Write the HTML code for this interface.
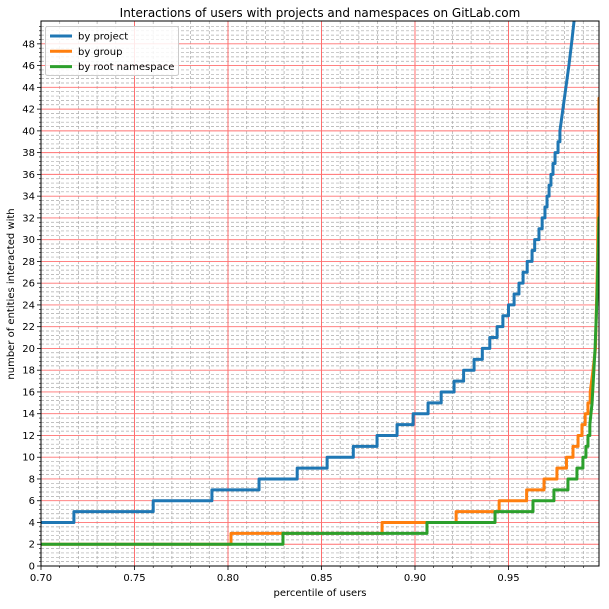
<!DOCTYPE html>
<html><head><meta charset="utf-8"><style>
body{margin:0;background:#fff;}
text{font-family:"DejaVu Sans","Liberation Sans",sans-serif;fill:#000;}
</style></head><body>
<svg id="chart" width="609" height="604" xmlns="http://www.w3.org/2000/svg">
<rect width="609" height="604" fill="#fff"/>
<g id="grid"></g><g id="series"></g><g id="axes"></g>
</svg>
<script>
const xTicks=[0.70,0.75,0.80,0.85,0.90,0.95];
const yTicks=[0,2,4,6,8,10,12,14,16,18,20,22,24,26,28,30,32,34,36,38,40,42,44,46,48];
const seriesNames=["by project","by group","by root namespace"];
const projectX=[0.70,0.7176,0.760,0.7914,0.8166,0.837,0.853,0.867,0.8797,0.8904,0.899,0.907,0.914,0.9209,0.926,0.9316,0.936,0.940,0.9439,0.947,0.950,0.953,0.9556,0.9578,0.960,0.9626,0.964,0.9663,0.968,0.9695,0.9706,0.9717,0.9727,0.9738,0.9749,0.9765,0.9775,0.9791,0.9807,0.9823,0.9837,0.985,0.9865];
const projectY=[4,5,6,7,8,9,10,11,12,13,14,15,16,17,18,19,20,21,22,23,24,25,26,27,28,29,30,31,32,33,34,35,36,37,38,39,40,42,44,46,48,50,52];
const groupX=[0.70,0.8016,0.8824,0.922,0.945,0.9597,0.969,0.9759,0.981,0.9845,0.9872,0.9893,0.991,0.9925,0.9937,0.9952,0.9965,0.9976,0.9984];
const groupY=[2,3,4,5,6,7,8,9,10,11,12,13,14,15,16,18,20,28,43];
const rootX=[0.70,0.8294,0.9064,0.9428,0.9631,0.9743,0.9818,0.9866,0.9898,0.9914,0.9925,0.9935,0.9947,0.9963,0.9974,0.9981,0.9984];
const rootY=[2,3,4,5,6,7,8,9,10,11,12,13,15,20,25,30,32];
const colors=["#1f77b4","#ff7f0e","#2ca02c"];
const L=41,R=599,T=21,B=566,xMin=0.70,xMax=0.9984,yMin=0,yMax=50.1;
const sx=v=>L+(v-xMin)/(xMax-xMin)*(R-L);
const sy=v=>B-(v-yMin)/(yMax-yMin)*(B-T);
const NS="http://www.w3.org/2000/svg";
function mk(tag,attrs,parent){const e=document.createElementNS(NS,tag);for(const k in attrs)e.setAttribute(k,attrs[k]);parent.appendChild(e);return e;}
const grid=document.getElementById('grid'),ser=document.getElementById('series'),ax=document.getElementById('axes');
for(let i=1;i<30;i++){const v=0.70+i*0.01;if(i%5===0)continue;const x=sx(v);if(x>=R)break;
 const l=mk('line',{x1:x,x2:x,y1:T,y2:B,stroke:'#aaa',"stroke-width":0.7,"stroke-dasharray":"3,2"},grid);
 
 mk('line',{x1:x,x2:x,y1:B,y2:B+2,stroke:'#000',"stroke-width":0.6},ax);}
for(let i=1;i*0.4<yMax;i++){if(i%5===0)continue;const y=sy(i*0.4);
 const l=mk('line',{x1:L,x2:R,y1:y,y2:y,stroke:'#aaa',"stroke-width":0.7,"stroke-dasharray":"3,2"},grid);
 
 mk('line',{x1:L-2,x2:L,y1:y,y2:y,stroke:'#000',"stroke-width":0.6},ax);}
xTicks.forEach(v=>{const x=sx(v);
 const l=mk('line',{x1:x,x2:x,y1:T,y2:B,stroke:'#ff6060',"stroke-width":0.9},grid);
 
 mk('line',{x1:x,x2:x,y1:B,y2:B+4,stroke:'#000',"stroke-width":0.8},ax);
 const t=mk('text',{x:x,y:B+15,"text-anchor":"middle","font-size":"10"},ax);t.textContent=v.toFixed(2);
 });
yTicks.forEach(v=>{const y=sy(v);
 const l=mk('line',{x1:L,x2:R,y1:y,y2:y,stroke:'#ff7070',"stroke-width":0.9},grid);
 
 mk('line',{x1:L-4,x2:L,y1:y,y2:y,stroke:'#000',"stroke-width":0.8},ax);
 const t=mk('text',{x:L-6,y:y+3.5,"text-anchor":"end","font-size":"10"},ax);t.textContent=v;
 });
const defs=mk('defs',{},ser);const cp=mk('clipPath',{id:'clip'},defs);mk('rect',{x:L,y:T,width:R-L,height:B-T},cp);
const all=[[projectX,projectY],[groupX,groupY],[rootX,rootY]];
[0,1,2].forEach(i=>{const [xs,ys]=all[i];let d='M'+sx(xs[0])+','+sy(ys[0]);
 for(let k=1;k<xs.length;k++){
  if(ys[k]-ys[k-1]>1) d+=' L'+sx(xs[k])+','+sy(ys[k]);
  else d+=' H'+sx(xs[k])+' V'+sy(ys[k]);}
 d+=' H'+(R+5);
 const p=mk('path',{d:d,fill:'none',stroke:colors[i],"stroke-width":3,"clip-path":"url(#clip)","stroke-linejoin":"round"},ser);
 
 });
const frame=mk('rect',{x:L,y:T,width:R-L,height:B-T,fill:'none',stroke:'#000',"stroke-width":1},ax);

const lg=mk('g',{},ax);
mk('rect',{x:45.5,y:26.5,width:133,height:49,rx:2,fill:'#fff',"fill-opacity":0.85,stroke:'#ccc',"stroke-width":1},lg);
seriesNames.forEach((n,i)=>{const y=36+i*15.3;
 mk('line',{x1:50,x2:72,y1:y,y2:y,stroke:colors[i],"stroke-width":3},lg);
 const t=mk('text',{x:78,y:y+3.5,"font-size":"10"},lg);t.textContent=n;
 });
const title=mk('text',{x:320,y:17,"text-anchor":"middle","font-size":"12"},ax);title.textContent="Interactions of users with projects and namespaces on GitLab.com";

const xl=mk('text',{x:320,y:596,"text-anchor":"middle","font-size":"10"},ax);xl.textContent="percentile of users";

const yl=mk('text',{x:0,y:0,"text-anchor":"middle","font-size":"10",transform:"translate(14,294) rotate(-90)"},ax);yl.textContent="number of entities interacted with";

</script>
</body></html>
